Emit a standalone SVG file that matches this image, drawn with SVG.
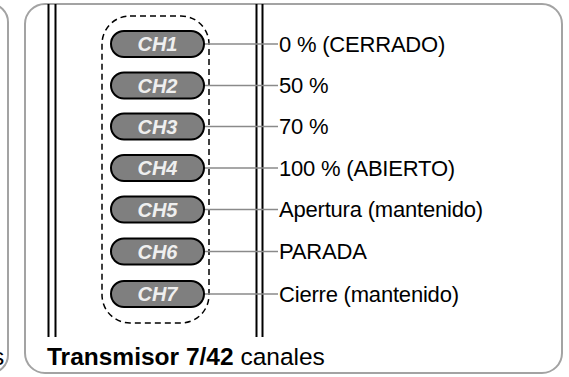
<svg xmlns="http://www.w3.org/2000/svg" width="569" height="377" viewBox="0 0 569 377">
<style>
.panel{fill:#ffffff;stroke:#a3a3a3;stroke-width:2}
.rail{stroke:#000;stroke-width:2;fill:none}
.group{fill:none;stroke:#000;stroke-width:1.5;stroke-dasharray:6 4}
.pill{fill:#7f7f7f;stroke:#000;stroke-width:2}
.ch{font-family:"Liberation Sans",Arial,sans-serif;font-weight:bold;font-style:italic;font-size:20px;fill:#efefef;text-anchor:middle}
.lbl{font-family:"Liberation Sans",Arial,sans-serif;font-size:22px;fill:#000;letter-spacing:-0.2px}
.wire{stroke:#8a8a8a;stroke-width:1.5;fill:none}
.title{font-family:"Liberation Sans",Arial,sans-serif;font-size:24.5px;fill:#000}
</style>
<rect width="569" height="377" fill="#ffffff"/>
<g id="left-panel">
<rect class="panel" x="-200" y="4" width="208" height="369" rx="18"/>
<text class="title" x="-8" y="365">s</text>
</g>
<g id="main-panel">
<rect class="panel" x="25" y="4" width="537" height="369" rx="20"/>
<line class="rail" x1="48.5" y1="4" x2="48.5" y2="337"/>
<line class="rail" x1="55.5" y1="4" x2="55.5" y2="337"/>
<line class="rail" x1="256.5" y1="4" x2="256.5" y2="337"/>
<line class="rail" x1="262.5" y1="4" x2="262.5" y2="337"/>
<rect class="group" x="102" y="16" width="107" height="307" rx="28"/>
<text class="title" x="47" y="365"><tspan font-weight="bold">Transmisor 7/42</tspan> canales</text>
</g>
<g id="connectors">
<line class="wire" x1="204" y1="44" x2="278" y2="44"/>
<line class="wire" x1="204" y1="85.5" x2="278" y2="85.5"/>
<line class="wire" x1="204" y1="126.5" x2="278" y2="126.5"/>
<line class="wire" x1="204" y1="168" x2="278" y2="168"/>
<line class="wire" x1="204" y1="209.5" x2="278" y2="209.5"/>
<line class="wire" x1="204" y1="251.5" x2="278" y2="251.5"/>
<line class="wire" x1="204" y1="294" x2="278" y2="294"/>
</g>
<g id="ch1"><rect class="pill" x="111" y="31" width="93" height="26" rx="13"/><text class="ch" x="157.5" y="51.2">CH1</text></g>
<g id="ch2"><rect class="pill" x="111" y="72.5" width="93" height="26" rx="13"/><text class="ch" x="157.5" y="92.7">CH2</text></g>
<g id="ch3"><rect class="pill" x="111" y="113.5" width="93" height="26" rx="13"/><text class="ch" x="157.5" y="133.7">CH3</text></g>
<g id="ch4"><rect class="pill" x="111" y="155" width="93" height="26" rx="13"/><text class="ch" x="157.5" y="175.2">CH4</text></g>
<g id="ch5"><rect class="pill" x="111" y="196.5" width="93" height="26" rx="13"/><text class="ch" x="157.5" y="216.7">CH5</text></g>
<g id="ch6"><rect class="pill" x="111" y="238.5" width="93" height="26" rx="13"/><text class="ch" x="157.5" y="258.7">CH6</text></g>
<g id="ch7"><rect class="pill" x="111" y="281" width="93" height="26" rx="13"/><text class="ch" x="157.5" y="301.2">CH7</text></g>
<g id="label1"><text class="lbl" x="279" y="51.5">0 % (CERRADO)</text></g>
<g id="label2"><text class="lbl" x="279" y="93">50 %</text></g>
<g id="label3"><text class="lbl" x="279" y="134">70 %</text></g>
<g id="label4"><text class="lbl" x="279" y="175.5">100 % (ABIERTO)</text></g>
<g id="label5"><text class="lbl" x="279" y="217">Apertura (mantenido)</text></g>
<g id="label6"><text class="lbl" x="279" y="259">PARADA</text></g>
<g id="label7"><text class="lbl" x="279" y="301.5">Cierre (mantenido)</text></g>
</svg>
